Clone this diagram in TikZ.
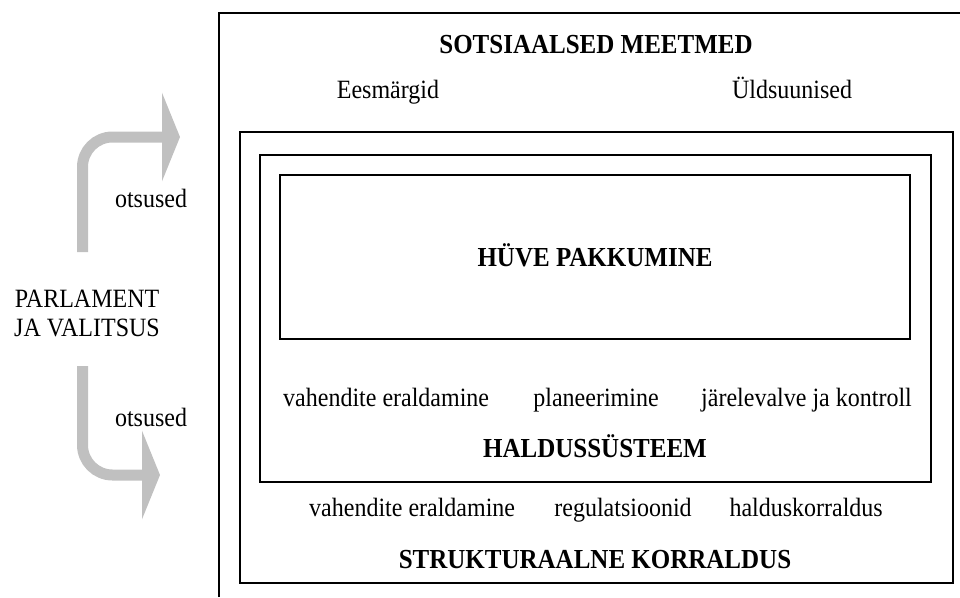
\documentclass[tikz,border=0pt]{standalone}
\usepackage{fontspec}
\setmainfont{Liberation Serif}
\usetikzlibrary{arrows.meta}

\definecolor{arrowgray}{HTML}{C0C0C0}
\newcommand{\tl}[1]{\scalebox{1}[1.1]{#1}}

\tikzset{
  lbl/.style={inner sep=0pt, anchor=base, font=\fontsize{24}{29}\selectfont},
  head/.style={inner sep=0pt, anchor=base, font=\fontsize{25}{30}\selectfont\bfseries},
  box/.style={draw, line width=1.3pt},
  bigarrow/.style={arrowgray, line width=11pt, rounded corners=30pt,
    -{Triangle[length=18pt,width=88pt]}},
}

\begin{document}
\begin{tikzpicture}[x=1pt,y=-1pt]
        \useasboundingbox (0,0) rectangle (960,597);
        % frames
        \draw[box] (219,597) -- (219,13) -- (960,13);
        \draw[box] (240,132) rectangle (953,583);
        \draw[box] (260,155) rectangle (931,482);
        \draw[box] (280,175) rectangle (910,339);
        % top part
        \node[head] (meetmed) at (596,53) {\tl{SOTSIAALSED MEETMED}};
        \node[lbl] (eesm) at (388,98) {\tl{Eesmärgid}};
        \node[lbl] (yld) at (792,98) {\tl{Üldsuunised}};
        % inner box
        \node[head] (hyve) at (595,266) {\tl{HÜVE PAKKUMINE}};
        % haldussysteem
        \node[lbl, anchor=base west] (vah1) at (283,406) {\tl{vahendite eraldamine}};
        \node[lbl] (plan) at (596,406) {\tl{planeerimine}};
        \node[lbl, anchor=base east] (jarel) at (912,406) {\tl{järelevalve ja kontroll}};
        \node[head] (hald) at (595,457) {\tl{HALDUSSÜSTEEM}};
        % strukturaalne korraldus
        \node[lbl, anchor=base west] (vah2) at (309,516) {\tl{vahendite eraldamine}};
        \node[lbl] (regul) at (623,516) {\tl{regulatsioonid}};
        \node[lbl, anchor=base east] (hkorr) at (883,516) {\tl{halduskorraldus}};
        \node[head] (struk) at (595,568) {\tl{STRUKTURAALNE KORRALDUS}};
        % left side
        \node[lbl, align=center] (parl) at (87,336) {\tl{PARLAMENT}\\\tl{JA VALITSUS}};
        \coordinate (upS) at (82.5,252);
        \coordinate (upE) at (180,137);
        \coordinate (dnS) at (82.5,366);
        \coordinate (dnE) at (160,475);
        \draw[bigarrow] (upS) |- (upE);
        \draw[bigarrow] (dnS) |- (dnE);
        \node[lbl] (ots1) at (151,207) {\tl{otsused}};
        \node[lbl] (ots2) at (151,426) {\tl{otsused}};
\end{tikzpicture}
\end{document}
